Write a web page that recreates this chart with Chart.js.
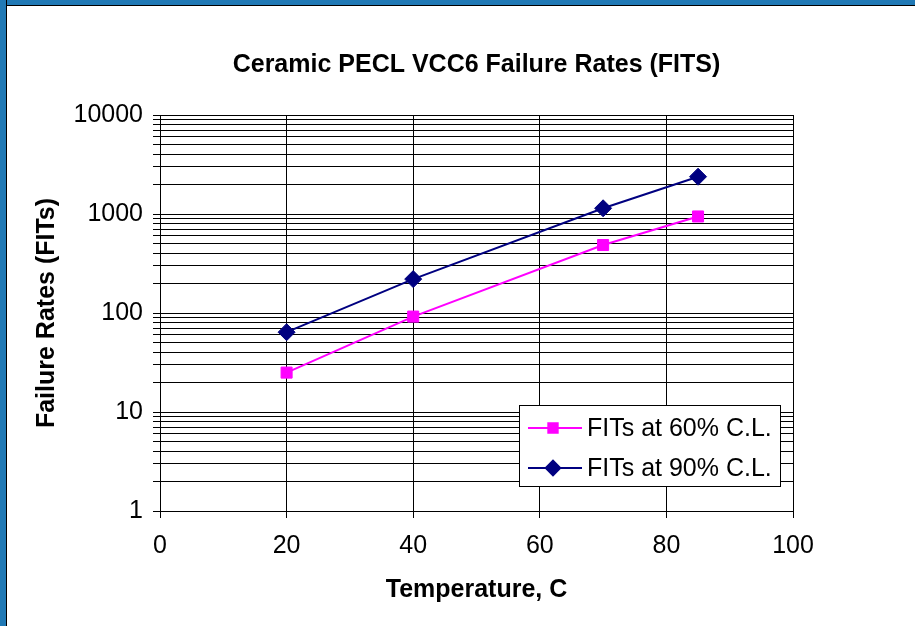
<!DOCTYPE html>
<html><head><meta charset="utf-8">
<script src="https://cdn.jsdelivr.net/npm/chart.js@4.4.0/dist/chart.umd.min.js"></script>
<style>
html,body{margin:0;padding:0;background:#fff;}
#wrap{position:relative;width:915px;height:626px;overflow:hidden;background:#fff;}
#c{position:absolute;left:0;top:0;}
.ft{position:absolute;left:0;top:0;width:915px;height:5px;background:#2079b5;border-bottom:1px solid #000;}
.fl{position:absolute;left:0;top:0;width:6px;height:626px;background:#2079b5;border-right:1px solid #000;}
</style></head>
<body><div id="wrap"><canvas id="c" width="915" height="626" style="width:915px;height:626px"></canvas><div class="ft"></div><div class="fl"></div></div>
<script>
const temperatures = [20, 40, 70, 85];
const fits60 = [25, 92, 486, 944];
const fits90 = [64, 220, 1142, 2381];
const seriesLabels = ['FITs at 60% C.L.', 'FITs at 90% C.L.'];
const xTickValues = [0, 20, 40, 60, 80, 100];
const yDecades = [1, 10, 100, 1000, 10000];
const chartTitle = 'Ceramic PECL VCC6 Failure Rates (FITS)';
const xTitle = 'Temperature, C';
const yTitle = 'Failure Rates (FITs)';

const FONT = "'Liberation Sans', Arial, sans-serif";

// Title centred over the plot area (as in the original spreadsheet chart)
const plotTitle = {
  id: 'plotTitle',
  afterDraw(chart) {
    const ctx = chart.ctx, a = chart.chartArea;
    ctx.save();
    ctx.fillStyle = '#000';
    ctx.font = 'bold 25px ' + FONT;
    ctx.textAlign = 'center';
    ctx.textBaseline = 'middle';
    ctx.fillText(chartTitle, (a.left + a.right) / 2, a.top - 50);
    ctx.restore();
  }
};

const boxLegend = {
  id: 'boxLegend',
  afterDraw(chart) {
    const ctx = chart.ctx, a = chart.chartArea;
    const w = 261, h = 81;
    const right = a.right - 13, bottom = a.bottom - 25;
    const left = right - w, top = bottom - h;
    ctx.save();
    ctx.fillStyle = '#fff';
    ctx.fillRect(left, top, w, h);
    ctx.strokeStyle = '#000';
    ctx.lineWidth = 1;
    ctx.strokeRect(Math.round(left) + 0.5, Math.round(top) + 0.5, w, h);
    chart.data.datasets.forEach((ds, i) => {
      const y = top + 23 + i * 40;
      ctx.strokeStyle = ds.borderColor;
      ctx.lineWidth = 2;
      ctx.beginPath();
      ctx.moveTo(left + 9, y);
      ctx.lineTo(left + 63, y);
      ctx.stroke();
      ctx.save();
      ctx.fillStyle = ds.pointBackgroundColor;
      ctx.strokeStyle = ds.pointBorderColor;
      Chart.helpers.drawPoint(ctx, {
        pointStyle: ds.pointStyle, radius: ds.pointRadius * 0.85, rotation: 0, borderWidth: 1
      }, left + 34, y);
      ctx.restore();
      ctx.fillStyle = '#000';
      ctx.font = '25px ' + FONT;
      ctx.textBaseline = 'middle';
      ctx.textAlign = 'left';
      ctx.fillText(ds.label, left + 68, y + 1);
    });
    ctx.restore();
  }
};

const colors = ['#FF00FF', '#000080'];
const styles = ['rect', 'rectRot'];
const radii = [7.8, 8.5];

const datasets = [fits60, fits90].map((vals, i) => ({
  label: seriesLabels[i],
  data: temperatures.map((t, k) => ({ x: t, y: vals[k] })),
  borderColor: colors[i],
  backgroundColor: colors[i],
  pointBackgroundColor: colors[i],
  pointBorderColor: colors[i],
  pointStyle: styles[i],
  pointRadius: radii[i],
  pointBorderWidth: 1,
  borderWidth: 2,
  tension: 0,
  fill: false
}));

new Chart(document.getElementById('c'), {
  type: 'line',
  data: { datasets },
  plugins: [plotTitle, boxLegend],
  options: {
    responsive: false,
    animation: false,
    devicePixelRatio: 1,
    layout: { padding: { left: 0, right: 122, top: 115, bottom: 0 } },
    plugins: {
      legend: { display: false },
      tooltip: { enabled: false },
      title: { display: false }
    },
    scales: {
      x: {
        type: 'linear',
        min: 0, max: 100,
        afterBuildTicks: s => { s.ticks = xTickValues.map(v => ({ value: v })); },
        afterFit: s => { s.height = 115; },
        ticks: { color: '#000', font: { family: FONT, size: 25 }, padding: 13, maxRotation: 0, autoSkip: false },
        grid: { color: '#000', lineWidth: 1, tickLength: 7, tickColor: '#000' },
        border: { display: true, color: '#000', width: 1 },
        title: { display: true, text: xTitle, color: '#000', font: { family: FONT, size: 25, weight: 'bold' }, padding: { top: 0, bottom: 21 } }
      },
      y: {
        type: 'logarithmic',
        min: yDecades[0], max: yDecades[yDecades.length - 1],
        afterBuildTicks: s => {
          const t = [];
          for (let i = 0; i < yDecades.length - 1; i++) {
            for (let m = 1; m <= 9; m++) t.push({ value: yDecades[i] * m, major: m === 1 });
          }
          t.push({ value: yDecades[yDecades.length - 1], major: true });
          s.ticks = t;
        },
        afterFit: s => { s.width = 160; },
        ticks: {
          color: '#000', font: { family: FONT, size: 25 }, padding: 10, autoSkip: false,
          callback: v => (yDecades.includes(v) ? String(v) : '')
        },
        grid: { color: '#000', lineWidth: 1, tickLength: 7, tickColor: '#000' },
        border: { display: true, color: '#000', width: 1 },
        title: { display: true, text: yTitle, color: '#000', font: { family: FONT, size: 25, weight: 'bold' }, padding: { top: 32, bottom: 0 } }
      }
    }
  }
});
</script>
</body></html>
